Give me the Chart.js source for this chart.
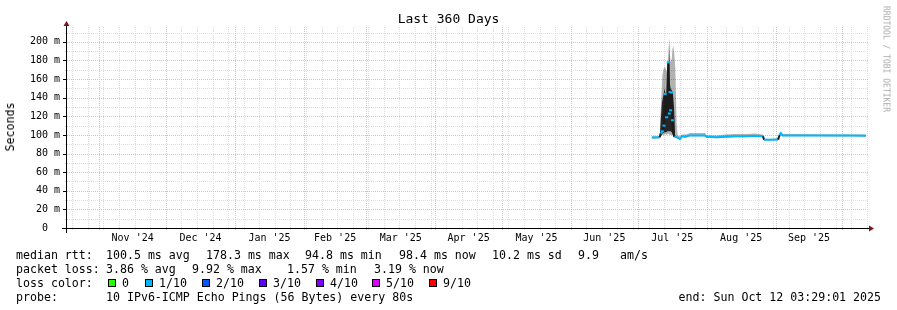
<!DOCTYPE html>
<html>
<head>
<meta charset="utf-8">
<script src="https://cdn.jsdelivr.net/npm/chart.js@4.4.1/dist/chart.umd.min.js"></script>
<style>
  html, body { margin: 0; padding: 0; background: #fff; }
  #wrap { position: relative; width: 897px; height: 310px; overflow: hidden;
          font-family: "DejaVu Sans Mono", monospace; color: #000; }
  #wrap canvas { position: absolute; left: 0; top: 0; }
  .t { position: absolute; white-space: pre; font-size: 11.6px; line-height: 14px; }
  .box { position: absolute; width: 6px; height: 6px; border: 1px solid #000; }
  #title { position: absolute; left: 0; width: 897px; top: 11px; text-align: center;
           font-size: 13px; line-height: 16px; }
  #ylab { position: absolute; left: 10px; top: 127px; font-size: 11.6px; white-space: pre;
          transform: translate(-50%, -50%) rotate(-90deg); }
  #credit { position: absolute; left: 886px; top: 59px; font-size: 8px; color: #aaa; white-space: pre;
            transform: translate(-50%, -50%) rotate(90deg); }
</style>
</head>
<body>
<div id="wrap">
  <canvas id="chart" width="897" height="310"></canvas>
  <div id="title">Last 360 Days</div>
  <div id="ylab">Seconds</div>
  <div id="credit">RRDTOOL / TOBI OETIKER</div>

  <div class="t" style="left:16px;top:248px">median rtt:</div>
  <div class="t" style="left:106px;top:248px">100.5 ms avg</div>
  <div class="t" style="left:206px;top:248px">178.3 ms max</div>
  <div class="t" style="left:305px;top:248px">94.8 ms min</div>
  <div class="t" style="left:399px;top:248px">98.4 ms now</div>
  <div class="t" style="left:492px;top:248px">10.2 ms sd</div>
  <div class="t" style="left:578px;top:248px">9.9</div>
  <div class="t" style="left:620px;top:248px">am/s</div>

  <div class="t" style="left:16px;top:262px">packet loss:</div>
  <div class="t" style="left:106px;top:262px">3.86 % avg</div>
  <div class="t" style="left:192px;top:262px">9.92 % max</div>
  <div class="t" style="left:287px;top:262px">1.57 % min</div>
  <div class="t" style="left:374px;top:262px">3.19 % now</div>

  <div class="t" style="left:16px;top:276px">loss color:</div>
  <div id="lossLegend"></div>

  <div class="t" style="left:16px;top:290px">probe:</div>
  <div class="t" style="left:106px;top:290px">10 IPv6-ICMP Echo Pings (56 Bytes) every 80s</div>
  <div class="t" style="right:16px;top:290px">end: Sun Oct 12 03:29:01 2025</div>
</div>
<script>
// day offsets inside the 360 day window (0 = start of graph)
const days = [262.8, 264.5, 266.4, 266.8, 267.6, 268.3, 268.8, 269.5, 270.2, 270.7, 271.0, 271.3, 271.8, 272.1,
              272.5, 273.0, 273.4, 274.0, 274.5, 275.5, 276.4, 278.0, 280.0, 283.0, 286.7, 287.4, 292.0, 296.0,
              300.0, 305.0, 309.0, 312.8, 313.3, 316.5, 319.6, 320.3, 320.8, 321.6, 325.0, 335.0, 345.0, 352.0, 359.1];
// median rtt in ms
const median = [97.3, 97.2, 97.5, 101.5, 104, 110, 144, 119, 178, 123, 146, 126.5, 145.5, 115.8,
                101.5, 98, 98, 97.5, 97, 95.5, 98.5, 98, 99.5, 99.5, 99.5, 98, 97.5, 98,
                98.5, 98.5, 99, 98.5, 94.9, 94.8, 95, 100, 102, 99.5, 99.5, 99.5, 99.3, 99.3, 99.2];
// outer smoke (all pings)
const smokeLow = [96.3, 96.3, 96.5, 99, 100, 100, 101, 100, 101, 101, 100, 100, 100, 100,
                  98, 97, 97, 96.5, 96, 94.8, 97.5, 97, 98.5, 98.5, 98.5, 97, 96.5, 97,
                  97.5, 97.5, 98, 97.5, 94, 94, 94, 99, 101, 98.5, 98.5, 98.5, 98.4, 98.4, 98.3];
const smokeHigh = [98.5, 98.5, 99, 125, 165, 172, 173, 168, 185, 205, 185, 178, 182, 192,
                   196, 185, 172, 112, 99.5, 98.5, 100.5, 100.5, 102, 102, 102, 100, 99.5, 100.5,
                   101, 101, 101.5, 100.5, 96, 96, 96.5, 101.5, 103.5, 101, 101, 100.8, 100.6, 100.6, 100.5];
// dense inner smoke during the July spike
const darkDays = [266.5, 266.9, 267.4, 268.0, 268.6, 269.2, 269.7, 270.0, 270.2, 270.45, 270.7, 270.95,
                  271.3, 271.8, 272.3, 272.8, 273.1, 273.35];
const darkLow  = [97.5, 99, 101, 102, 103, 103, 104, 104, 105, 104, 104, 104, 104, 103, 101, 100, 99, 97.5];
const darkHigh = [100, 118, 135, 142, 150, 140, 148, 150, 180, 150, 200, 155, 150, 148, 145, 130, 115, 99];

const monthLabels = ["Nov '24", "Dec '24", "Jan '25", "Feb '25", "Mar '25", "Apr '25",
                     "May '25", "Jun '25", "Jul '25", "Aug '25", "Sep '25"];
const monthLengths = [30, 31, 31, 28, 31, 30, 31, 30, 31, 31, 30];
const firstMonthStart = 14.5;   // 1 Nov 2024
const firstWeek = 2.4;
const yTicks = [0, 10, 20, 30, 40, 50, 60, 70, 80, 90, 100, 110, 120, 130, 140, 150, 160, 170, 180, 190, 200, 210];

const lossNames = ['0', '1/10', '2/10', '3/10', '4/10', '5/10', '9/10'];
const lossColors = ['#26ff00', '#00b8ff', '#0059ff', '#5e00ff', '#7e00ff', '#dd00ff', '#ff0000'];
const lossBoxX = [108, 145, 202, 259, 316, 372, 429];

const majorGrid = '#f7b4b4';
const minorGrid = '#dedede';

// loss colour legend row
const lossLegend = document.getElementById('lossLegend');
lossNames.forEach((n, i) => {
  const b = document.createElement('div');
  b.className = 'box';
  b.style.left = lossBoxX[i] + 'px';
  b.style.top = '279px';
  b.style.background = lossColors[i];
  lossLegend.appendChild(b);
  const t = document.createElement('div');
  t.className = 't';
  t.style.left = (lossBoxX[i] + 14) + 'px';
  t.style.top = '276px';
  t.textContent = n;
  lossLegend.appendChild(t);
});

// month boundaries, label positions, weekly lines
const monthStarts = [firstMonthStart];
monthLengths.forEach(l => monthStarts.push(monthStarts[monthStarts.length - 1] + l));
const labelPos = monthLengths.map((l, i) => monthStarts[i] + l / 2);
const weeks = [];
for (let d = firstWeek; d < 360; d += 7) weeks.push(d);

const pts = (xs, ys) => xs.map((x, i) => ({x: x, y: ys[i]}));
const lineCol = lossColors[1];

// rrdtool style dotted grid, drawn from the scales
const rrdGrid = {
  id: 'rrdGrid',
  beforeDatasetsDraw(chart) {
    const {ctx, chartArea: a, scales: {x, y}} = chart;
    const vline = (v, col) => {
      const px = Math.round(x.getPixelForValue(v)) + 0.5;
      ctx.strokeStyle = col;
      ctx.beginPath();
      ctx.moveTo(px, a.top);
      ctx.lineTo(px, a.bottom + 3);
      ctx.stroke();
    };
    const hline = (v, col) => {
      const py = Math.round(y.getPixelForValue(v)) + 0.5;
      ctx.strokeStyle = col;
      ctx.beginPath();
      ctx.moveTo(a.left - 2, py);
      ctx.lineTo(a.right, py);
      ctx.stroke();
    };
    ctx.save();
    ctx.lineWidth = 1;
    ctx.setLineDash([1, 1]);
    weeks.forEach(v => vline(v, minorGrid));
    yTicks.filter(v => v % 20 !== 0).forEach(v => hline(v, minorGrid));
    monthStarts.forEach(v => vline(v, majorGrid));
    yTicks.filter(v => v % 20 === 0 && v > 0).forEach(v => hline(v, majorGrid));
    // short solid ticks on the value axis
    ctx.setLineDash([]);
    ctx.strokeStyle = '#000';
    yTicks.filter(v => v % 20 === 0).forEach(v => {
      const py = Math.round(y.getPixelForValue(v)) + 0.5;
      ctx.beginPath();
      ctx.moveTo(a.left - 4, py);
      ctx.lineTo(a.left, py);
      ctx.stroke();
    });
    ctx.restore();
  }
};

const axisArrows = {
  id: 'axisArrows',
  afterDraw(chart) {
    const {ctx, chartArea: a} = chart;
    ctx.save();
    ctx.strokeStyle = '#000';
    ctx.lineWidth = 1;
    ctx.beginPath();
    ctx.moveTo(a.left - 5, a.bottom + 0.5);
    ctx.lineTo(a.right + 1, a.bottom + 0.5);
    ctx.moveTo(a.left - 0.5, a.bottom + 5);
    ctx.lineTo(a.left - 0.5, a.top - 1);
    ctx.stroke();
    ctx.fillStyle = '#7f1414';
    ctx.beginPath();
    ctx.moveTo(a.right + 6, a.bottom + 0.5);
    ctx.lineTo(a.right + 1, a.bottom - 2.5);
    ctx.lineTo(a.right + 1, a.bottom + 3.5);
    ctx.closePath();
    ctx.fill();
    ctx.beginPath();
    ctx.moveTo(a.left - 0.5, a.top - 6);
    ctx.lineTo(a.left - 3.5, a.top - 1);
    ctx.lineTo(a.left + 2.5, a.top - 1);
    ctx.closePath();
    ctx.fill();
    ctx.restore();
  }
};

Chart.defaults.font.family = "'DejaVu Sans Mono', monospace";
Chart.defaults.color = '#000';

new Chart(document.getElementById('chart'), {
  type: 'line',
  data: {
    datasets: [
      {
        data: pts(days, median),
        borderColor: lineCol,
        borderWidth: 2,
        segment: {
          borderColor: c => Math.abs(c.p1.parsed.y - c.p0.parsed.y) > 3 ? '#1c1c1c' : lineCol
        },
        pointStyle: 'line',
        pointRadius: c => (c.raw && c.raw.y > 103) ? 1.5 : 0,
        pointBorderColor: lineCol,
        pointBorderWidth: 2,
        fill: false
      },
      {
        data: pts(darkDays, darkHigh),
        borderWidth: 0, pointRadius: 0,
        backgroundColor: 'rgba(18,18,18,0.88)',
        fill: '+1'
      },
      {
        data: pts(darkDays, darkLow),
        borderWidth: 0, pointRadius: 0, fill: false
      },
      {
        data: pts(days, smokeHigh),
        borderWidth: 0, pointRadius: 0,
        backgroundColor: 'rgba(0,0,0,0.3)',
        fill: '+1'
      },
      {
        data: pts(days, smokeLow),
        borderWidth: 0, pointRadius: 0, fill: false
      }
    ]
  },
  options: {
    responsive: false,
    animation: false,
    devicePixelRatio: 1,
    layout: { padding: { left: 0, top: 27, right: 29, bottom: 0 } },
    elements: { line: { tension: 0 } },
    plugins: { legend: { display: false }, tooltip: { enabled: false } },
    scales: {
      x: {
        type: 'linear',
        min: 0,
        max: 360,
        afterFit: s => { s.height = 82; },
        afterBuildTicks: s => {
          s.ticks = labelPos.map((v, i) => ({value: v, text: monthLabels[i]}));
        },
        border: { display: false },
        grid: { drawOnChartArea: false, tickColor: 'rgba(0,0,0,0)', tickLength: 2 },
        ticks: {
          autoSkip: false,
          maxRotation: 0,
          padding: 2,
          font: { size: 10 },
          callback: (v, i, ticks) => ticks[i].text
        }
      },
      y: {
        min: 0,
        max: 216,
        afterFit: s => { s.width = 67; },
        afterBuildTicks: s => { s.ticks = yTicks.map(v => ({value: v})); },
        border: { display: false },
        grid: { drawOnChartArea: false, tickColor: 'rgba(0,0,0,0)', tickLength: 3 },
        ticks: {
          padding: 4,
          font: { size: 10 },
          callback: v => v === 0 ? '0  ' : (v % 20 === 0 ? v + ' m' : '')
        }
      }
    }
  },
  plugins: [rrdGrid, axisArrows]
});
</script>
</body>
</html>
